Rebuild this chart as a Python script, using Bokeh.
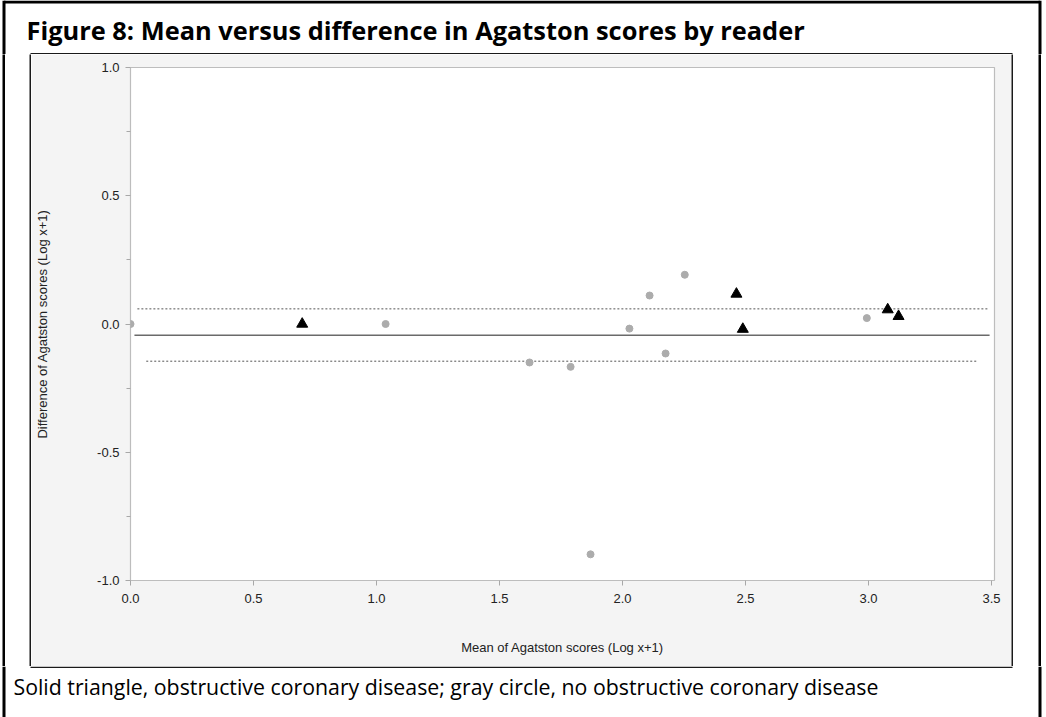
from bokeh.plotting import figure
from bokeh.layouts import column, row
from bokeh.models import Range1d, FixedTicker, Label
from bokeh.embed import file_html
from bokeh.resources import INLINE

# ---- data ----
no_obs_mean = [0.0, 1.037, 1.622, 1.789, 1.870, 2.028, 2.110, 2.175, 2.253, 2.993]
no_obs_diff = [0.0, 0.0, -0.15, -0.167, -0.898, -0.018, 0.111, -0.115, 0.192, 0.023]
obs_mean = [0.698, 2.463, 2.489, 3.078, 3.122]
obs_diff = [0.0, 0.117, -0.02, 0.056, 0.03]

bias = -0.044
upper_loa = 0.059
lower_loa = -0.145
bias_x = [0.016, 3.492]
upper_x = [0.028, 3.484]
lower_x = [0.064, 3.443]

x_ticks = [0.0, 0.5, 1.0, 1.5, 2.0, 2.5, 3.0, 3.5]
x_tick_labels = ["0.0", "0.5", "1.0", "1.5", "2.0", "2.5", "3.0", "3.5"]
y_ticks = [-1.0, -0.5, 0.0, 0.5, 1.0]
y_tick_labels = ["-1.0", "-0.5", "0.0", "0.5", "1.0"]
y_minor = [-0.75, -0.25, 0.25, 0.75]

title_text = "Figure 8: Mean versus difference in Agatston scores by reader"
caption_text = "Solid triangle, obstructive coronary disease; gray circle, no obstructive coronary disease"
x_label = "Mean of Agatston scores (Log x+1)"
y_label = "Difference of Agatston scores (Log x+1)"

# ---- layout constants (page pixels) ----
W, H = 1046, 717
TOP_H = 54            # title strip height
MID_H = 612           # inner panel height
BOT_H = H - TOP_H - MID_H
# left strip pieces: white, black (outer border), white, dark (inner border)
LEFT_PIECES = [(2, "white"), (3, "black"), (24, "white"), (2, "#1a1a1a")]
# right strip pieces: dark (inner border), white, black (outer border), white
RIGHT_PIECES = [(2, "#1a1a1a"), (25, "white"), (3, "black"), (5, "white")]
LEFT_W = sum(w for w, _ in LEFT_PIECES)
RIGHT_W = sum(w for w, _ in RIGHT_PIECES)
MAIN_W = W - LEFT_W - RIGHT_W
OUT_L, OUT_R, OUT_T, OUT_W = 3.5, 1039.5, 1.5, 3.0
IN_L, IN_R, IN_T, IN_B, IN_W = 30.0, 1012.0, 53.2, 666.8, 1.6


def blank(w, h, xr, yr, color="white"):
    f = figure(width=w, height=h, output_backend="svg", toolbar_location=None,
               x_range=Range1d(*xr), y_range=Range1d(*yr),
               x_axis_location=None, y_axis_location=None, min_border=0)
    f.outline_line_color = None
    f.grid.visible = False
    f.background_fill_color = color
    f.border_fill_color = color
    return f


# title strip
top = blank(W, TOP_H, (0, W), (TOP_H, 0))
top.segment(x0=[OUT_L, OUT_L, OUT_R], y0=[OUT_T, 0, 0], x1=[OUT_R, OUT_L, OUT_R], y1=[OUT_T, TOP_H, TOP_H],
            line_color="black", line_width=OUT_W)
top.segment(x0=[IN_L], y0=[IN_T], x1=[IN_R], y1=[IN_T], line_color="#1a1a1a", line_width=IN_W)
top.add_layout(Label(x=26, y=29, text=title_text, text_font="Open Sans", text_font_style="bold",
                     text_font_size="25.4px", text_color="black", text_baseline="middle"))

# side strips made of solid-colour pieces
left_strip = row([blank(w, MID_H, (0, 1), (0, 1), c) for w, c in LEFT_PIECES])
right_strip = row([blank(w, MID_H, (0, 1), (0, 1), c) for w, c in RIGHT_PIECES])

# caption strip
bot = blank(W, BOT_H, (0, W), (H, TOP_H + MID_H))
bot.segment(x0=[OUT_L, OUT_R], y0=[TOP_H + MID_H, TOP_H + MID_H], x1=[OUT_L, OUT_R], y1=[H, H],
            line_color="black", line_width=OUT_W)
bot.segment(x0=[IN_L], y0=[IN_B], x1=[IN_R], y1=[IN_B], line_color="#1a1a1a", line_width=IN_W)
bot.add_layout(Label(x=13, y=686, text=caption_text, text_font="Open Sans",
                     text_font_size="21.3px", text_color="black", text_baseline="middle"))

# main chart
p = figure(width=MAIN_W, height=MID_H, output_backend="svg", toolbar_location=None,
           x_range=Range1d(0, 3.512), y_range=Range1d(-1.0, 1.0),
           min_border_left=130 - LEFT_W, min_border_right=LEFT_W + MAIN_W - 994,
           min_border_top=13, min_border_bottom=86)
p.border_fill_color = "#f4f4f4"
p.background_fill_color = "white"
p.outline_line_color = "#bdbdbd"
p.outline_line_width = 1.2
p.grid.visible = False

for ax in (p.xaxis[0], p.yaxis[0]):
    ax.axis_line_color = None
    ax.major_tick_line_color = "#a8a8a8"
    ax.minor_tick_line_color = "#a8a8a8"
    ax.major_tick_in = 0
    ax.minor_tick_in = 0
    ax.major_label_text_font = "Liberation Sans"
    ax.major_label_text_font_size = "13px"
    ax.major_label_text_color = "#222222"
    ax.axis_label_text_font = "Liberation Sans"
    ax.axis_label_text_font_size = "13px"
    ax.axis_label_text_font_style = "normal"
    ax.axis_label_text_color = "#222222"

p.xaxis.ticker = FixedTicker(ticks=x_ticks)
p.xaxis.major_label_overrides = dict(zip(x_ticks, x_tick_labels))
p.xaxis.major_tick_out = 5
p.xaxis.minor_tick_out = 0
p.xaxis.major_label_standoff = 8
p.xaxis.axis_label = x_label
p.xaxis.axis_label_standoff = 34

p.yaxis.ticker = FixedTicker(ticks=y_ticks, minor_ticks=y_minor)
p.yaxis.major_label_overrides = dict(zip(y_ticks, y_tick_labels))
p.yaxis.major_tick_out = 5
p.yaxis.minor_tick_out = 4
p.yaxis.major_label_standoff = 6
p.yaxis.axis_label = y_label
p.yaxis.axis_label_standoff = 44

p.line(bias_x, [bias, bias], line_color="#6a6a6a", line_width=1.5)
p.line(upper_x, [upper_loa, upper_loa], line_color="#555555", line_width=1, line_dash="2 2")
p.line(lower_x, [lower_loa, lower_loa], line_color="#555555", line_width=1, line_dash="2 2")

p.scatter(no_obs_mean, no_obs_diff, marker="circle", size=7, fill_color="#acacac",
          line_color="#acacac")
p.scatter(obs_mean, obs_diff, marker="triangle", size=11, fill_color="black",
          line_color="black")

layout = column(top, row(left_strip, p, right_strip), bot)
open("out.html", "w").write(file_html(layout, INLINE))
